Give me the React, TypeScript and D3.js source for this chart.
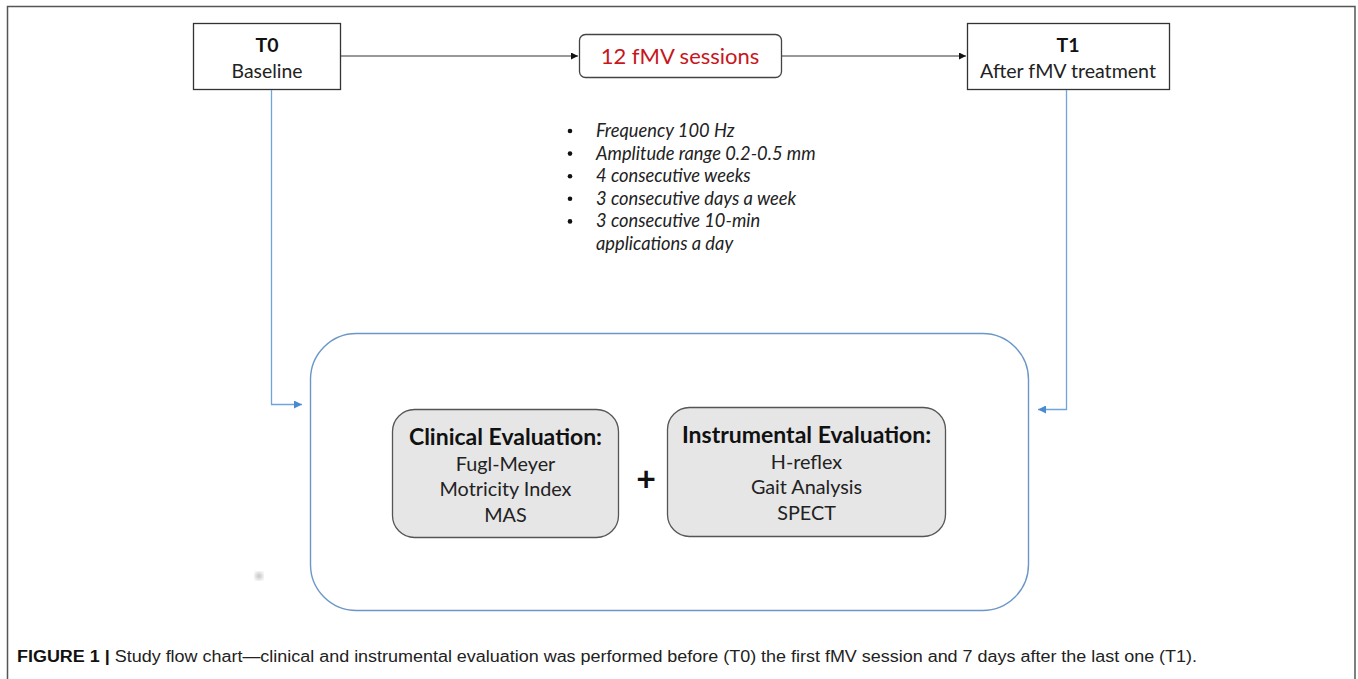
import React from 'react';
import * as d3 from 'd3';

// timeline boxes
const timeBoxes = [
  { id: 'T0', title: 'T0', sub: 'Baseline' },
  { id: 'T1', title: 'T1', sub: 'After fMV treatment' },
];
const sessionLabel = '12 fMV sessions';

const protocol = [
  'Frequency 100 Hz',
  'Amplitude range 0.2-0.5 mm',
  '4 consecutive weeks',
  '3 consecutive days a week',
  '3 consecutive 10-min',
];
const protocolCont = 'applications a day';

const clinical = ['Fugl-Meyer', 'Motricity Index', 'MAS'];
const instrumental = ['H-reflex', 'Gait Analysis', 'SPECT'];

const captionBold = 'FIGURE 1 | ';
const captionText =
  'Study flow chart\u2014clinical and instrumental evaluation was performed before (T0) the first fMV session and 7 days after the last one (T1).';

const W = 1358;
const H = 679;
const FONT = 'Lato, "Open Sans", sans-serif';

export default function App() {
  const line = d3.line<[number, number]>();
  const rowY = d3.scaleLinear().domain([0, 1]).range([137, 159.6]);
  const evalY = d3.scaleLinear().domain([0, 1]).range([0, 25.5]);

  const evalBox = (x: number, y: number, w: number, h: number, title: string, items: string[]) => (
    <g>
      <rect x={x} y={y} width={w} height={h} rx={22} ry={22} fill="#e6e6e6" stroke="#555" strokeWidth={1.3} />
      <text x={x + w / 2} y={y + 35} textAnchor="middle" fontFamily={FONT} fontWeight={700} fontSize={23} fill="#111">
        {title}
      </text>
      {items.map((t, i) => (
        <text key={t} x={x + w / 2} y={y + 61 + evalY(i)} textAnchor="middle" fontFamily={FONT} fontSize={19.8} fill="#222">
          {t}
        </text>
      ))}
    </g>
  );

  return (
    <svg width={W} height={H} style={{ position: 'absolute', left: 0, top: 0 }} xmlns="http://www.w3.org/2000/svg">
      <defs>
        <marker id="arrBlack" viewBox="0 0 10 10" refX={10} refY={5} markerWidth={7} markerHeight={7} orient="auto" markerUnits="userSpaceOnUse">
          <path d="M0,0 L10,5 L0,10 z" fill="#111" />
        </marker>
        <marker id="arrBlue" viewBox="0 0 10 10" refX={10} refY={5} markerWidth={9} markerHeight={8} orient="auto" markerUnits="userSpaceOnUse">
          <path d="M0,0 L10,5 L0,10 z" fill="#4a8ad0" />
        </marker>
        <filter id="blur">
          <feGaussianBlur stdDeviation={2} />
        </filter>
      </defs>
      <rect x={0} y={0} width={W} height={H} fill="#fff" />
      {/* frame */}
      <path d={line([[7.5, 690], [7.5, 6.5], [1355, 6.5], [1355, 690]]) ?? ''} fill="none" stroke="#555" strokeWidth={1.5} />

      {/* top flow */}
      <path d={line([[340, 56], [578, 56]]) ?? ''} stroke="#333" strokeWidth={1.2} markerEnd="url(#arrBlack)" />
      <path d={line([[781, 56], [966, 56]]) ?? ''} stroke="#333" strokeWidth={1.2} markerEnd="url(#arrBlack)" />

      <rect x={193.5} y={23.5} width={147} height={66} fill="#fff" stroke="#333" strokeWidth={1.3} />
      <text x={267} y={52} textAnchor="middle" fontFamily={FONT} fontWeight={700} fontSize={19.5} fill="#111">{timeBoxes[0].title}</text>
      <text x={267} y={78} textAnchor="middle" fontFamily={FONT} fontSize={19.4} fill="#222">{timeBoxes[0].sub}</text>

      <rect x={579.5} y={34.5} width={202} height={43} rx={6} ry={6} fill="#fff" stroke="#444" strokeWidth={1.3} />
      <text x={680} y={64} textAnchor="middle" fontFamily={FONT} fontSize={22} fill="#c8161d">{sessionLabel}</text>

      <rect x={967.5} y={23.5} width={202} height={66} fill="#fff" stroke="#333" strokeWidth={1.3} />
      <text x={1068} y={52} textAnchor="middle" fontFamily={FONT} fontWeight={700} fontSize={19.5} fill="#111">{timeBoxes[1].title}</text>
      <text x={1068} y={78} textAnchor="middle" fontFamily={FONT} fontSize={19.6} fill="#222">{timeBoxes[1].sub}</text>

      {/* protocol bullets */}
      {protocol.map((t, i) => (
        <g key={t}>
          <circle cx={570} cy={rowY(i) - 6} r={2.3} fill="#111" />
          <text x={596} y={rowY(i)} fontFamily={FONT} fontStyle="italic" fontSize={18.3} fill="#222">{t}</text>
        </g>
      ))}
      <text x={596} y={rowY(protocol.length)} fontFamily={FONT} fontStyle="italic" fontSize={18.3} fill="#222">{protocolCont}</text>

      {/* blue connectors */}
      <path d={line([[271.5, 90], [271.5, 404.5], [302, 404.5]]) ?? ''} fill="none" stroke="#6fa5de" strokeWidth={1.3} markerEnd="url(#arrBlue)" />
      <path d={line([[1066.5, 90], [1066.5, 409.5], [1038, 409.5]]) ?? ''} fill="none" stroke="#6fa5de" strokeWidth={1.3} markerEnd="url(#arrBlue)" />

      {/* evaluation container */}
      <rect x={310.5} y={333.5} width={718} height={277} rx={46} ry={46} fill="none" stroke="#6b97c8" strokeWidth={1.4} />

      {evalBox(392.5, 409.5, 226, 128, 'Clinical Evaluation:', clinical)}
      <text x={646} y={491} textAnchor="middle" fontFamily={FONT} fontWeight={700} fontSize={34} fill="#111">+</text>
      {evalBox(667.5, 407.5, 278, 129, 'Instrumental Evaluation:', instrumental)}

      <circle cx={259} cy={576} r={3.5} fill="#bbb" filter="url(#blur)" />

      {/* caption */}
      <text x={17} y={662} fontFamily='"Liberation Sans", Arial, sans-serif' fontSize={16} fill="#222" textLength={1180} lengthAdjust="spacingAndGlyphs">
        <tspan fontWeight={700} fill="#111">{captionBold}</tspan>
        <tspan>{captionText}</tspan>
      </text>
    </svg>
  );
}
